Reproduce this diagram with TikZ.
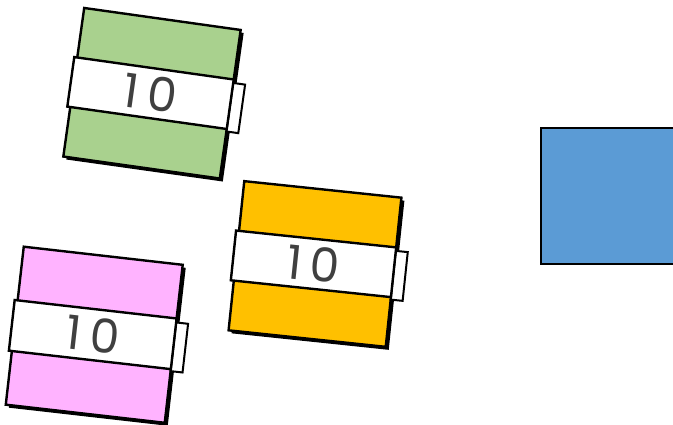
\documentclass[tikz,border=0pt]{standalone}
\usepackage{fontspec}
\setmainfont{Poppins}
\usepackage{xcolor}
\usetikzlibrary{shadows}
\definecolor{leafgreen}{HTML}{A9D18E}
\definecolor{amber}{HTML}{FFC000}
\definecolor{candy}{HTML}{FFB3FF}
\definecolor{skyblue}{HTML}{5B9BD5}
\definecolor{label}{HTML}{404040}

\begin{document}
\begin{tikzpicture}[
    x=1pt, y=1pt,
    every node/.style={align=center},
    bundle/.style={rectangle, draw=black, line width=2.4pt, transform shape, inner sep=0pt, drop shadow={shadow xshift=3pt, shadow yshift=-3pt, fill=black, opacity=1}},
    band/.style={rectangle, draw=black, line width=2.4pt, fill=white, transform shape, inner sep=0pt, minimum height=50pt, text=label, font=\fontsize{47}{47}\selectfont},
    tab/.style={rectangle, draw=black, line width=2pt, fill=white, transform shape, inner sep=0pt, minimum width=12pt, minimum height=49pt},
    block/.style={rectangle, draw=black, line width=2pt, fill=skyblue, inner sep=0pt, minimum width=140pt, minimum height=136pt}
]
\useasboundingbox (0,0) rectangle (673,425);
\clip (0,0) rectangle (673,425);

% Green bundle
\begin{scope}[shift={(152,331.75)}, rotate=-8]
\node[bundle, fill=leafgreen, minimum width=158pt, minimum height=150pt] (green) at (0,0) {};
\node[tab] (greentab) at (85,-3) {};
\node[band, minimum width=161pt] (greenband) at (-1.5,0) {1\kern9pt0};
\end{scope}

% Orange bundle
\begin{scope}[shift={(315,161)}, rotate=-6]
\node[bundle, fill=amber, minimum width=158pt, minimum height=150pt] (orange) at (0,0) {};
\node[tab] (orangetab) at (85,-3) {};
\node[band, minimum width=161pt] (orangeband) at (-1.5,0) {1\kern9pt0};
\end{scope}

% Pink bundle
\begin{scope}[shift={(94.25,90.25)}, rotate=-6.5]
\node[bundle, fill=candy, minimum width=160pt, minimum height=159pt] (pink) at (0,0) {};
\node[tab] (pinktab) at (86,-3) {};
\node[band, minimum width=163pt, minimum height=51pt] (pinkband) at (-1.5,0) {1\kern9pt0};
\end{scope}

% Blue block, cut by the right edge
\node[block, anchor=north west] (panel) at (540,298) {};

\end{tikzpicture}
\end{document}
